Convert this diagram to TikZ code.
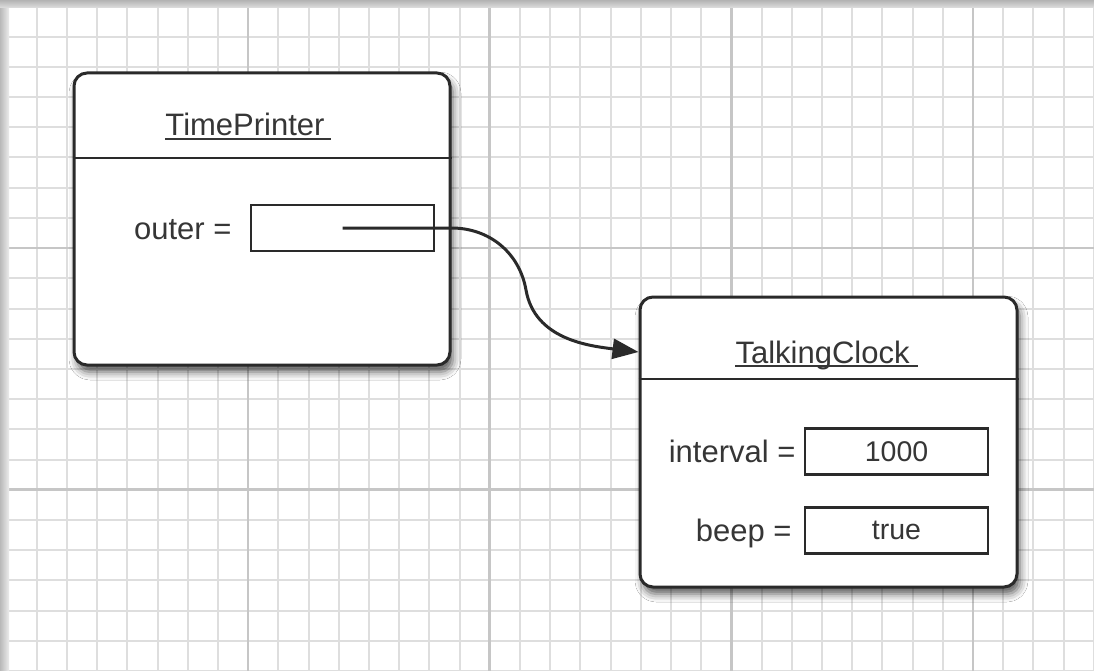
\documentclass[tikz,border=0pt]{standalone}
\usepackage{fontspec}
\setmainfont{Liberation Sans}
\usepackage{tikz}
\usetikzlibrary{arrows.meta,positioning,shadows.blur}
\definecolor{ink}{HTML}{2A2A2A}
\definecolor{textgray}{HTML}{363636}
\definecolor{gridminor}{HTML}{DEDEDE}
\definecolor{gridmajor}{HTML}{C6C6C6}
\newcommand{\lblfont}{\fontsize{31}{37}\selectfont}
\newcommand{\valfont}{\fontsize{28.5}{34}\selectfont}

\tikzset{
  minorline/.style={gridminor, line width=2pt},
  majorline/.style={gridmajor, line width=2.6pt},
  objbox/.style={draw=ink, line width=3pt, rounded corners=13pt, fill=white,
    blur shadow={shadow xshift=3pt, shadow yshift=-7pt, shadow blur radius=8pt, shadow opacity=65}},
  divline/.style={ink, line width=2.6pt},
  title/.style={anchor=base, inner sep=0pt, text=textgray, font=\lblfont},
  uline/.style={textgray, line width=2pt},
  fieldbox/.style={draw=ink, line width=2.6pt, fill=white, minimum width=183pt,
    minimum height=46pt, inner sep=0pt, text=textgray, font=\valfont},
  lbl/.style={inner sep=0pt, text height=22pt, text depth=0pt, text=textgray, font=\lblfont},
  ptr/.style={ink, line width=3pt, -{Triangle[length=26pt,width=20pt]}}
}

\begin{document}
\begin{tikzpicture}[x=1pt,y=-1pt]
  \useasboundingbox[fill=white] (0,0) rectangle (1094,671);
  % grid paper
  \foreach \i in {0,...,36} { \draw[minorline] (6.5+30.2*\i,0) -- (6.5+30.2*\i,671); }
  \foreach \j in {0,...,22} { \draw[minorline] (0,6.5+30.2*\j) -- (1094,6.5+30.2*\j); }
  \foreach \i in {0,8,...,32} { \draw[majorline] (6.5+30.2*\i,0) -- (6.5+30.2*\i,671); }
  \foreach \j in {0,8,16} { \draw[majorline] (0,6.5+30.2*\j) -- (1094,6.5+30.2*\j); }
  \shade[left color=gray!55, right color=gray!15] (0,0) rectangle (9,671);
  \shade[top color=gray!60, bottom color=gray!25] (0,0) rectangle (1094,8);

  % objects
  \node[objbox, minimum width=376pt, minimum height=292pt] (tp) at (262,219) {};
  \node[objbox, minimum width=377pt, minimum height=290pt] (tc) at (828.5,442) {};
  \coordinate (tpdiv) at (0,158);
  \coordinate (tcdiv) at (0,379);
  \draw[divline] (tp.west |- tpdiv) -- (tp.east |- tpdiv);
  \draw[divline] (tc.west |- tcdiv) -- (tc.east |- tcdiv);

  \node[title] (tpname) at (245,136) {TimePrinter};
  \draw[uline] ([yshift=-3pt]tpname.base west) -- ([xshift=6pt,yshift=-3pt]tpname.base east);
  \node[title] (tcname) at (822.5,363) {TalkingClock};
  \draw[uline] ([yshift=-3pt]tcname.base west) -- ([xshift=8pt,yshift=-3pt]tcname.base east);

  % fields
  \node[fieldbox] (outerval) at (342.5,228) {};
  \node[lbl, left=18pt of outerval] (outerlbl) {outer =};
  \node[fieldbox] (intval) at (896.5,451.5) {1000};
  \node[lbl, left=8pt of intval] (intlbl) {interval =};
  \node[fieldbox] (beepval) at (896.5,530.5) {true};
  \node[lbl, left=12pt of beepval] (beeplbl) {beep =};

  % reference
  \coordinate (bend) at (526,290);
  \coordinate (tcin) at ([yshift=90pt]tc.west);
  \draw[ptr] (outerval.center) -- (outerval.center -| tp.east)
    to[out=0,in=100] (bend) to[out=-80,in=173] (tcin);
\end{tikzpicture}
\end{document}
